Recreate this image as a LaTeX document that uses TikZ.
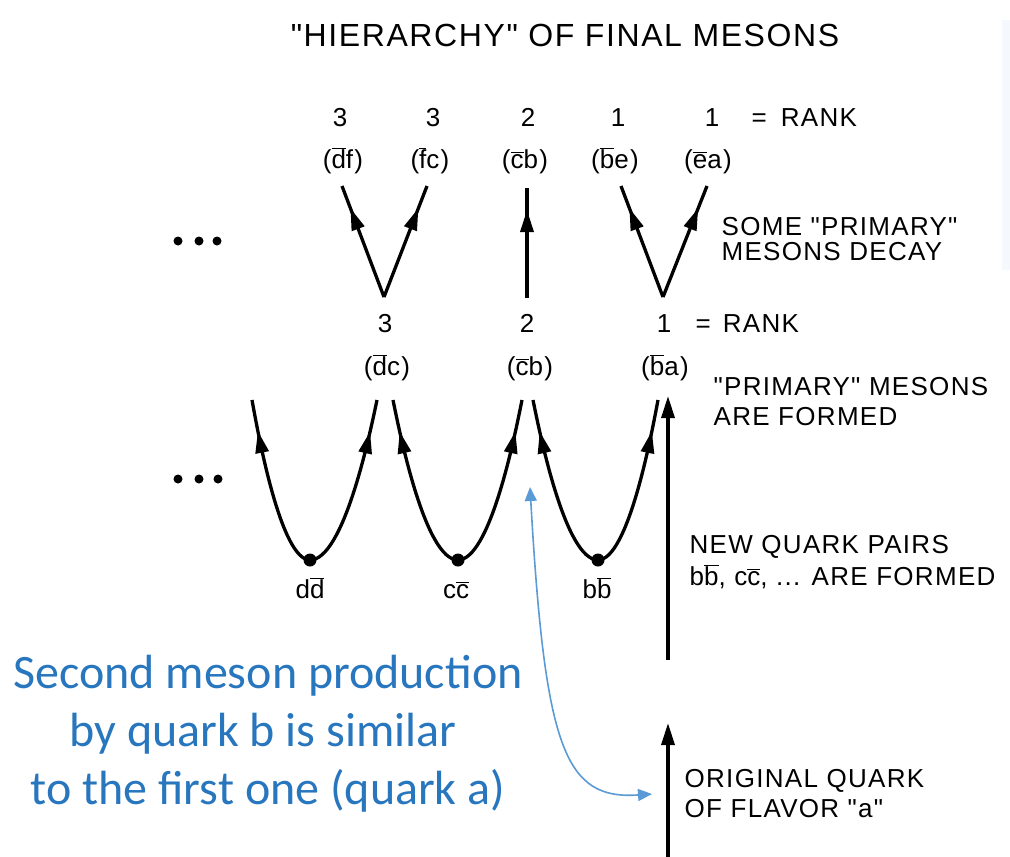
\documentclass[tikz,border=0pt]{standalone}
\usepackage{fontspec}
\setmainfont{Liberation Sans}[LetterSpace=5, Ligatures=TeXOff]
\newfontfamily\blufont{Carlito}
\usetikzlibrary{arrows.meta,decorations.markings}
\definecolor{txtblue}{RGB}{40,118,190}
\definecolor{arrblue}{RGB}{91,155,213}
\definecolor{edgeblue}{RGB}{245,248,253}
\newcommand{\qb}[1]{\ensuremath{\overline{\mbox{#1}}}}
\begin{document}
\begin{tikzpicture}[x=1pt,y=-1pt,
  line width=3.3pt,
  lbl/.style={inner sep=0pt, anchor=base, font=\fontsize{26}{30}\selectfont},
  side/.style={inner sep=0pt, anchor=base west, font=\fontsize{26}{30}\selectfont},
  titlefont/.style={inner sep=0pt, anchor=base, font=\fontsize{32}{36}\selectfont},
  bluetext/.style={inner sep=0pt, anchor=base, text=txtblue, font=\blufont\fontsize{48}{58}\selectfont},
  qdot/.style={circle, fill=black, inner sep=0pt, minimum size=13pt},
  midarr/.style={postaction={decorate},decoration={markings,
     mark=at position #1 with {\arrow{Triangle[length=22pt,width=13pt]}}}},
  endarr/.style={-{Triangle[length=22pt,width=13pt]}},
  bluearr/.style={draw=arrblue, line width=1.6pt,
     {Triangle[length=14pt,width=12pt]}-{Triangle[length=14pt,width=12pt]}}
]
\useasboundingbox (0,0) rectangle (1010,857);
\fill[edgeblue] (1002,20) rectangle (1010,270);

% title
\node[titlefont] (title) at (565,46) {"HIERARCHY" OF FINAL MESONS};

% top row: final mesons
\node[lbl] (r1) at (340,126) {3};
\node[lbl] (r2) at (433,126) {3};
\node[lbl] (r3) at (528,126) {2};
\node[lbl] (r4) at (618,126) {1};
\node[lbl] (r5) at (712,126) {1};
\node[side] (rank1) at (750,126) {=\hspace{14pt}RANK};
\node[lbl] (m1) at (343,168) {(\qb{d}f)};
\node[lbl] (m2) at (430,168) {(\qb{f}c)};
\node[lbl] (m3) at (525,168) {(\qb{c}b)};
\node[lbl] (m4) at (615,168) {(\qb{b}e)};
\node[lbl] (m5) at (708,168) {(\qb{e}a)};

% decay vertices and ends
\coordinate (v1) at (384,297);
\coordinate (v2) at (527,298);
\coordinate (v3) at (663,297);
\coordinate (t1) at (342,186);
\coordinate (t2) at (427,186);
\coordinate (t3) at (527,188);
\coordinate (t4) at (621,186);
\coordinate (t5) at (707,186);
\draw[midarr=0.8] (v1) -- (t1);
\draw[midarr=0.8] (v1) -- (t2);
\draw[midarr=0.8] (v2) -- (t3);
\draw[midarr=0.8] (v3) -- (t4);
\draw[midarr=0.8] (v3) -- (t5);

\node[side] (s1a) at (720,235) {SOME "PRIMARY"};
\node[side] (s1b) at (720,260) {MESONS DECAY};

% dots
\fill (178,241) circle (4.5) (199,241) circle (4.5) (217,241) circle (4.5);
\fill (178,479) circle (4.5) (199,479) circle (4.5) (218,479) circle (4.5);

% primary mesons
\node[lbl] (p1) at (385,332) {3};
\node[lbl] (p2) at (527,332) {2};
\node[lbl] (p3) at (664,332) {1};
\node[side] (rank2) at (694,332) {=\hspace{12pt}RANK};
\node[lbl] (q1) at (387,375) {(\qb{d}c)};
\node[lbl] (q2) at (530,375) {(\qb{c}b)};
\node[lbl] (q3) at (665,375) {(\qb{b}a)};

\node[side] (s2a) at (712,395) {"PRIMARY" MESONS};
\node[side] (s2b) at (712,425) {ARE FORMED};

% quark pairs
\node[qdot] (dd) at (310,560) {};
\node[qdot] (cc) at (458,560) {};
\node[qdot] (bb) at (598,560) {};
\coordinate (u1l) at (252,400);
\coordinate (u1r) at (377,400);
\coordinate (u2l) at (393,400);
\coordinate (u2r) at (522,400);
\coordinate (u3l) at (533,400);
\coordinate (u3r) at (658,400);
\draw[midarr=0.82] (dd.center) parabola (u1l);
\draw[midarr=0.82] (dd.center) parabola (u1r);
\draw[midarr=0.82] (cc.center) parabola (u2l);
\draw[midarr=0.82] (cc.center) parabola (u2r);
\draw[midarr=0.82] (bb.center) parabola (u3l);
\draw[midarr=0.82] (bb.center) parabola (u3r);
\node[lbl] (ld) at (310,598) {d\qb{d}};
\node[lbl] (lc) at (456,598) {c\qb{c}};
\node[lbl] (lb) at (597,598) {b\qb{b}};

% long arrows
\coordinate (a1s) at (668,660);
\coordinate (a1e) at (668,396);
\coordinate (a2s) at (668,857);
\coordinate (a2e) at (668,723);
\draw[endarr] (a1s) -- (a1e);
\draw[endarr] (a2s) -- (a2e);

\node[side] (s3a) at (688,553) {NEW QUARK PAIRS};
\node[side] (s3b) at (688,585) {b\qb{b}, c\qb{c}, ... ARE FORMED};
\node[side] (s4a) at (683,787) {ORIGINAL QUARK};
\node[side] (s4b) at (683,817) {OF FLAVOR "a"};

% blue annotation
\node[bluetext] (b1) at (268,688) {Second meson production};
\node[bluetext] (b2) at (263,746) {by quark b is similar};
\node[bluetext] (b3) at (268,804) {to the first one (quark a)};
\coordinate (bt) at (530,487);
\coordinate (be) at (652,794);
\draw[bluearr] (bt) .. controls (545,750) and (565,800) .. (be);
\end{tikzpicture}
\end{document}
